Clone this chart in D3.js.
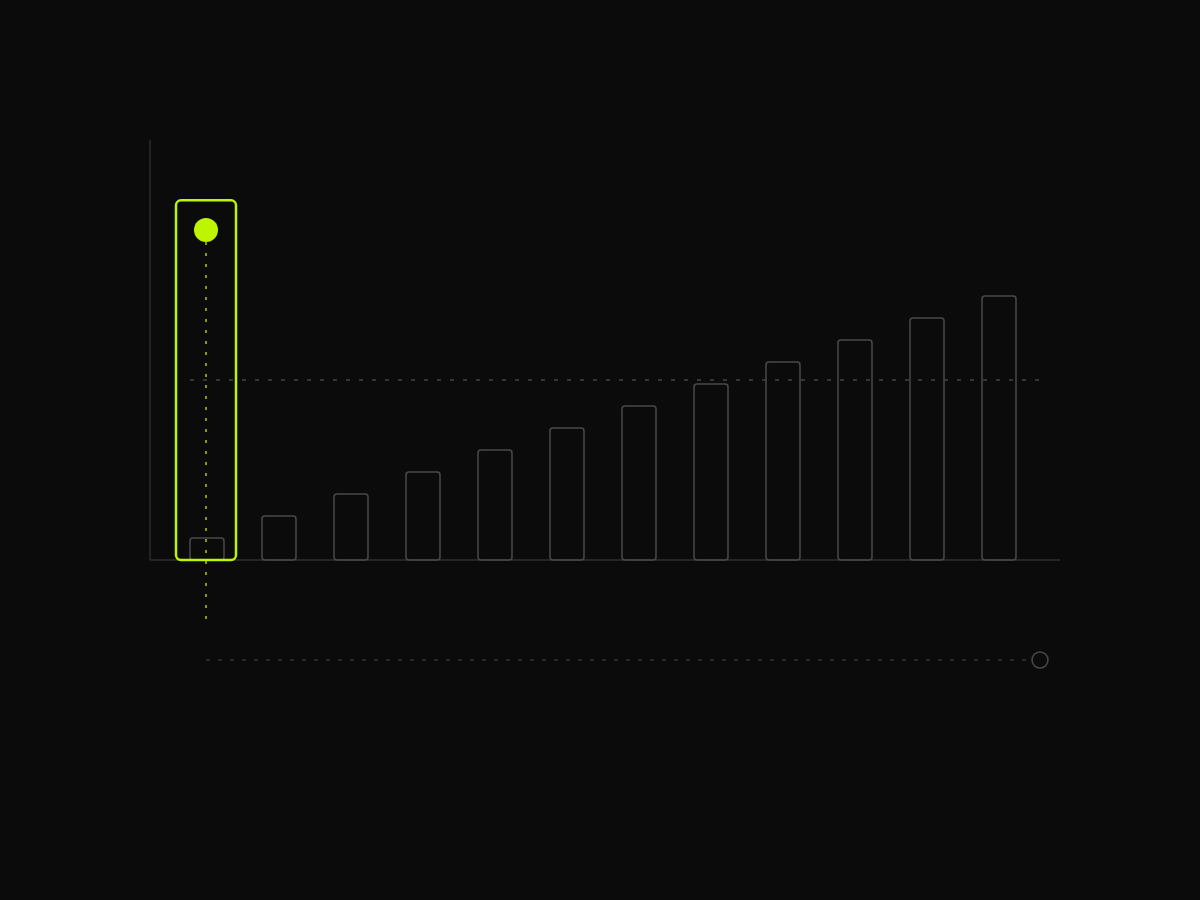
<!DOCTYPE html>
<html>
<head>
<meta charset="utf-8">
<script src="https://cdn.jsdelivr.net/npm/d3@7"></script>
<style>
  html, body { margin: 0; padding: 0; background: #0b0b0b; }
  svg { display: block; }
</style>
</head>
<body>
<svg id="chart"></svg>
<script>
// data
const categories = ['1', '2', '3', '4', '5', '6', '7', '8', '9', '10', '11', '12'];
const values = [1, 2, 3, 4, 5, 6, 7, 8, 9, 10, 11, 12];
const referenceValue = [8.18];
const highlightIndex = [0];
const highlightTop = [16.35];
const highlightPoint = [15];
const yMax = [19.1];

const width = 1200, height = 900;
const lime = '#bdf500';

const svg = d3.select('#chart')
  .attr('width', width)
  .attr('height', height)
  .attr('viewBox', `0 0 ${width} ${height}`);

svg.append('rect')
  .attr('width', width)
  .attr('height', height)
  .attr('fill', '#0b0b0b');

const x = d3.scaleBand()
  .domain(categories)
  .range([171, 1035])
  .paddingInner(38 / 72)
  .paddingOuter(19 / 72);

const y = d3.scaleLinear()
  .domain([0, 12])
  .range([560, 296]);

// axes (plain lines, no ticks)
svg.append('line')
  .attr('x1', 150).attr('x2', 150)
  .attr('y1', y(yMax[0])).attr('y2', y(0))
  .attr('stroke', '#232323')
  .attr('stroke-width', 2);

svg.append('line')
  .attr('x1', 150).attr('x2', 1060)
  .attr('y1', y(0)).attr('y2', y(0))
  .attr('stroke', '#262626')
  .attr('stroke-width', 2);

// bars
svg.append('g')
  .selectAll('rect').data(values).enter().append('rect')
  .attr('x', (d, i) => x(categories[i]))
  .attr('y', d => y(d))
  .attr('width', x.bandwidth())
  .attr('height', d => y(0) - y(d))
  .attr('rx', 3)
  .attr('fill', 'none')
  .attr('stroke', '#4a4a4a')
  .attr('stroke-width', 1.5);

// reference dashed line
svg.append('line')
  .attr('x1', 190).attr('x2', 1042)
  .attr('y1', y(referenceValue[0])).attr('y2', y(referenceValue[0]))
  .attr('stroke', '#444')
  .attr('stroke-width', 1.5)
  .attr('stroke-dasharray', '4 9');

// highlight
const hi = highlightIndex[0];
const cx = x(categories[hi]) + x.bandwidth() / 2 - 1;

svg.append('rect')
  .attr('x', cx - 30)
  .attr('y', y(highlightTop[0]))
  .attr('width', 60)
  .attr('height', y(0) - y(highlightTop[0]))
  .attr('rx', 5)
  .attr('fill', 'none')
  .attr('stroke', lime)
  .attr('stroke-width', 2.5);

svg.append('line')
  .attr('x1', cx).attr('x2', cx)
  .attr('y1', y(highlightPoint[0]) + 12).attr('y2', 620)
  .attr('stroke', lime)
  .attr('stroke-opacity', 0.65)
  .attr('stroke-width', 2)
  .attr('stroke-dasharray', '3 8');

svg.append('circle')
  .attr('cx', cx)
  .attr('cy', y(highlightPoint[0]))
  .attr('r', 12)
  .attr('fill', lime);

// bottom scrubber track
svg.append('line')
  .attr('x1', cx).attr('x2', 1032)
  .attr('y1', 660).attr('y2', 660)
  .attr('stroke', '#333')
  .attr('stroke-width', 1.5)
  .attr('stroke-dasharray', '4 8');

svg.append('circle')
  .attr('cx', 1040)
  .attr('cy', 660)
  .attr('r', 8)
  .attr('fill', 'none')
  .attr('stroke', '#4a4a4a')
  .attr('stroke-width', 1.5);
</script>
</body>
</html>
